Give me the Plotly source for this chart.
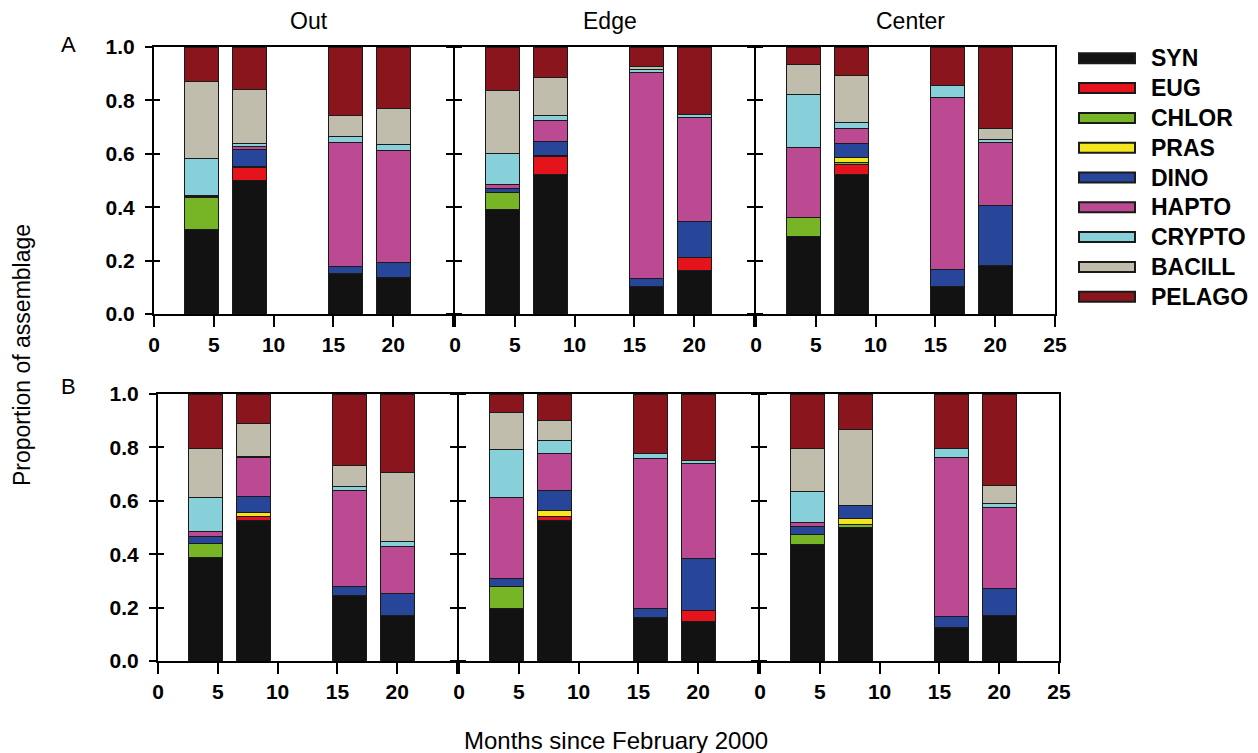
import plotly.graph_objects as go

# ---------------- data ----------------
MONTHS = [4, 8, 16, 20]
ROWS = ["A", "B"]
SITES = ["Out", "Edge", "Center"]
TAXA = ["SYN", "EUG", "CHLOR", "PRAS", "DINO", "HAPTO", "CRYPTO", "BACILL", "PELAGO"]
COLORS = ["#121212", "#e5131c", "#78b526", "#f4e61e", "#27469a",
          "#bb4a93", "#87cfd9", "#c1bdad", "#8b151c"]

# each list: panels A-Out, A-Edge, A-Center, B-Out, B-Edge, B-Center (4 bars each: months 4, 8, 16, 20)
SYN = [0.318, 0.500, 0.153, 0.138,  0.391, 0.523, 0.103, 0.163,  0.291, 0.523, 0.103, 0.183,
       0.387, 0.525, 0.247, 0.170,  0.195, 0.528, 0.163, 0.148,  0.435, 0.500, 0.126, 0.171]
EUG = [0, 0.050, 0, 0,  0, 0.066, 0, 0.050,  0, 0.037, 0, 0,
       0, 0.015, 0, 0,  0, 0.012, 0, 0.040,  0, 0, 0, 0]
CHLOR = [0.118, 0, 0, 0,  0.065, 0.004, 0, 0,  0.070, 0.009, 0, 0,
         0.054, 0, 0, 0,  0.085, 0, 0, 0,  0.037, 0.010, 0, 0]
PRAS = [0, 0.004, 0, 0,  0, 0, 0, 0,  0, 0.017, 0, 0,
        0, 0.017, 0, 0,  0, 0.023, 0, 0,  0, 0.023, 0, 0]
DINO = [0.003, 0.063, 0.025, 0.056,  0.013, 0.052, 0.031, 0.135,  0, 0.051, 0.064, 0.222,
        0.024, 0.059, 0.033, 0.081,  0.029, 0.075, 0.035, 0.196,  0.033, 0.050, 0.040, 0.100]
HAPTO = [0.006, 0.012, 0.464, 0.418,  0.017, 0.078, 0.772, 0.389,  0.263, 0.057, 0.643, 0.237,
         0.020, 0.145, 0.358, 0.179,  0.302, 0.141, 0.561, 0.355,  0.015, 0, 0.595, 0.304]
CRYPTO = [0.136, 0.008, 0.022, 0.021,  0.116, 0.019, 0.011, 0.009,  0.199, 0.023, 0.045, 0.013,
          0.128, 0.004, 0.017, 0.017,  0.180, 0.045, 0.020, 0.012,  0.116, 0, 0.035, 0.015]
BACILL = [0.290, 0.203, 0.078, 0.136,  0.235, 0.143, 0.010, 0,  0.111, 0.178, 0, 0.040,
          0.182, 0.124, 0.077, 0.259,  0.140, 0.075, 0, 0,  0.160, 0.284, 0, 0.067]
PELAGO = [0.129, 0.160, 0.258, 0.231,  0.163, 0.115, 0.073, 0.254,  0.066, 0.105, 0.145, 0.305,
          0.205, 0.111, 0.268, 0.294,  0.069, 0.101, 0.221, 0.249,  0.204, 0.133, 0.204, 0.343]
SERIES = [SYN, EUG, CHLOR, PRAS, DINO, HAPTO, CRYPTO, BACILL, PELAGO]

X_TICKS = [0, 5, 10, 15, 20, 25]
Y_TICKS = [0.0, 0.2, 0.4, 0.6, 0.8, 1.0]

# ---------------- layout helpers ----------------
W, H = 1258, 753
FONT = "Arial, Liberation Sans, sans-serif"


def fx(p):
    return p / W


def fy(p):
    return 1 - p / H


ROW_PX = [(47, 314), (394, 661)]
ROW_LEFT = [154, 158]
PANEL_W = 299
GAP = 2

fig = go.Figure()
layout = {}
TICKFONT = dict(family=FONT, size=21, color="black", weight="bold")

for r in range(2):
    for c in range(3):
        p = r * 3 + c
        n = p + 1
        xa = "x" if n == 1 else f"x{n}"
        ya = "y" if n == 1 else f"y{n}"
        for k, name in enumerate(TAXA):
            vals = SERIES[k][p * 4:(p + 1) * 4]
            vals = [v if v > 0 else None for v in vals]
            fig.add_trace(go.Bar(
                x=MONTHS, y=vals, name=name, xaxis=xa, yaxis=ya,
                width=2.85, marker=dict(color=COLORS[k], line=dict(color="#1a1a1a", width=1)),
                showlegend=False, legendgroup=name,
            ))
        left = ROW_LEFT[r] + c * (PANEL_W + GAP)
        top, bot = ROW_PX[r]
        xkey = "xaxis" if n == 1 else f"xaxis{n}"
        ykey = "yaxis" if n == 1 else f"yaxis{n}"
        ticktext = [str(v) for v in X_TICKS]
        if c < 2:
            ticktext[-1] = ""
        layout[xkey] = dict(
            domain=[fx(left), fx(left + PANEL_W)], anchor=ya, range=[0, 25],
            tickvals=X_TICKS, ticktext=ticktext, ticks="outside", ticklen=11, tickwidth=2,
            tickcolor="black", showline=True, linewidth=2, linecolor="black", mirror=True,
            showgrid=False, zeroline=False, automargin=False, fixedrange=True,
            tickfont=TICKFONT,
        )
        layout[ykey] = dict(
            domain=[fy(bot), fy(top)], anchor=xa, range=[0, 1],
            tickvals=Y_TICKS, tickformat=".1f", ticks="outside", ticklen=7, tickwidth=2,
            tickcolor="black", showline=True, linewidth=2, linecolor="black",
            mirror="ticks" if c < 2 else True, showticklabels=(c == 0),
            showgrid=False, zeroline=False, automargin=False, fixedrange=True,
            ticklabelstandoff=6,
            tickfont=TICKFONT,
        )

# inner halves of the crossing ticks on the left-most axes
for r in range(2):
    n = 7 + r
    base = "y" if r == 0 else "y4"
    xa = "x" if r == 0 else "x4"
    top, bot = ROW_PX[r]
    layout[f"yaxis{n}"] = dict(
        overlaying=base, anchor=xa, side="left", range=[0, 1], domain=[fy(bot), fy(top)],
        tickvals=Y_TICKS, ticks="inside", ticklen=6, tickwidth=2, tickcolor="black",
        showticklabels=False, showline=False, showgrid=False, zeroline=False,
        automargin=False, fixedrange=True,
    )
    fig.add_trace(go.Scatter(x=[None], y=[None], xaxis=xa, yaxis=f"y{n}",
                             showlegend=False, hoverinfo="skip"))

annotations = []
# panel titles
for c, site in enumerate(SITES):
    annotations.append(dict(
        text=site, x=fx(ROW_LEFT[0] + c * (PANEL_W + GAP) + PANEL_W / 2 + 5), y=fy(21),
        xref="paper", yref="paper", showarrow=False, xanchor="center", yanchor="middle",
        font=dict(family=FONT, size=23, color="black")))
# row letters
for r, lab in enumerate(ROWS):
    annotations.append(dict(
        text=lab, x=fx(68), y=fy([45, 386][r]), xref="paper", yref="paper",
        showarrow=False, xanchor="center", yanchor="middle",
        font=dict(family=FONT, size=22, color="black")))
# axis titles
annotations.append(dict(
    text="Months since February 2000", x=fx(616), y=fy(740), xref="paper", yref="paper",
    showarrow=False, xanchor="center", yanchor="middle",
    font=dict(family=FONT, size=24, color="black")))
annotations.append(dict(
    text="Proportion of assemblage", x=fx(22), y=fy(355), xref="paper", yref="paper",
    showarrow=False, xanchor="center", yanchor="middle", textangle=-90,
    font=dict(family=FONT, size=23, color="black")))

# custom legend (wide swatches, as in the reference)
shapes = []
for i, name in enumerate(TAXA):
    yc = 58.3 + i * 29.8
    shapes.append(dict(type="rect", xref="paper", yref="paper",
                       x0=fx(1079), x1=fx(1135), y0=fy(yc + 5), y1=fy(yc - 5),
                       fillcolor=COLORS[i], line=dict(color="#1a1a1a", width=2)))
    annotations.append(dict(
        text=name, x=fx(1149), y=fy(yc), xref="paper", yref="paper",
        showarrow=False, xanchor="left", yanchor="middle",
        font=dict(family=FONT, size=23, color="black", weight="bold")))

fig.update_layout(
    **layout,
    barmode="stack",
    width=W, height=H,
    margin=dict(l=0, r=0, t=0, b=0),
    paper_bgcolor="white", plot_bgcolor="white",
    annotations=annotations, shapes=shapes,
    showlegend=False,
)

fig.write_html("out.html", config={"displayModeBar": False})
